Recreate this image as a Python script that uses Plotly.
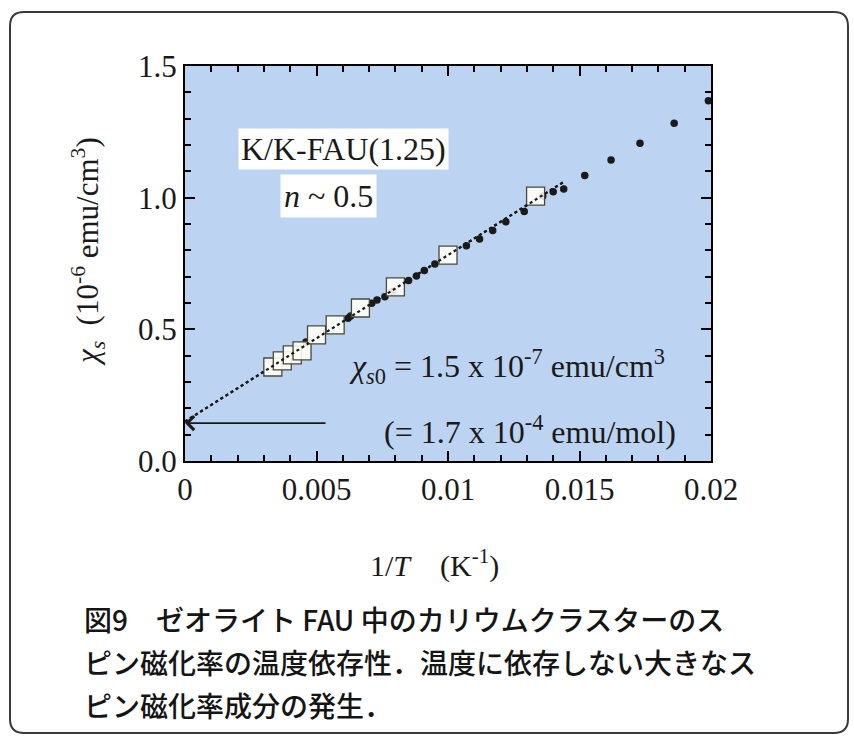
import plotly.graph_objects as go

# --- data -------------------------------------------------------------
# open squares: 1/T (K^-1) and chi_s (10^-6 emu/cm^3)
sq_x = [0.00334, 0.0037, 0.00408, 0.00445, 0.0050, 0.00571, 0.00667, 0.0080, 0.0100, 0.01333]
sq_y = [0.357, 0.380, 0.403, 0.418, 0.479, 0.517, 0.581, 0.661, 0.782, 1.006]

# filled dots
dot_x = [0.0046, 0.0062, 0.0063, 0.0071, 0.0073, 0.0076, 0.0079, 0.0085, 0.0088, 0.0091,
         0.0095, 0.0107, 0.0112, 0.0117, 0.0122, 0.0129, 0.0136, 0.0140, 0.0144, 0.0152,
         0.0162, 0.0173, 0.0186, 0.0199]
dot_y = [0.452, 0.542, 0.551, 0.599, 0.611, 0.624, 0.645, 0.685, 0.703, 0.723,
         0.748, 0.817, 0.843, 0.875, 0.909, 0.947, 1.005, 1.022, 1.033, 1.084,
         1.143, 1.207, 1.283, 1.368]

# linear fit extrapolated to 1/T = 0
fit_x = [0.0, 0.0144]
fit_y = [0.15, 1.06]

chi_s0 = 0.144         # intercept marked by the arrow
arrow_start = 0.0054   # tail of the arrow on the 1/T axis

caption_lines = [
    "図9　ゼオライト FAU 中のカリウムクラスターのス",
    "ピン磁化率の温度依存性．温度に依存しない大きなス",
    "ピン磁化率成分の発生．",
]

# --- layout constants ---------------------------------------------------
W, H = 854, 740
L, R, T, B = 185, 854 - 711, 66, 740 - 461
PW, PH = W - L - R, H - T - B
SERIF = "Liberation Serif, Times New Roman, serif"
GOTHIC = "Noto Sans CJK JP, sans-serif"
INK = "black"
TXT = "#1a1a1a"
X_RANGE, Y_RANGE = [0, 0.02], [0, 1.5]


def px(xp):
    return (xp - L) / PW


def py(yp):
    return (H - B - yp) / PH


fig = go.Figure()

fit_line = dict(color=TXT, width=2.2, dash="dot")
fig.add_trace(go.Scatter(x=fit_x, y=fit_y, mode="lines", line=fit_line,
                         hoverinfo="skip", showlegend=False))
fig.add_trace(go.Scatter(
    x=dot_x, y=dot_y, mode="markers",
    marker=dict(symbol="circle", size=7.5, color=TXT),
    showlegend=False,
))
fig.add_trace(go.Scatter(
    x=sq_x, y=sq_y, mode="markers",
    marker=dict(symbol="square", size=18, color="rgba(255,255,246,0.88)",
                line=dict(color="#4a4838", width=1.3)),
    showlegend=False,
))
# dotted fit line drawn again, on the minor-tick axes, so it shows through the squares
fig.add_trace(go.Scatter(x=fit_x, y=fit_y, mode="lines", line=fit_line,
                         xaxis="x2", yaxis="y2",
                         hoverinfo="skip", showlegend=False))

fig.update_layout(
    width=W, height=H,
    margin=dict(l=L, r=R, t=T, b=B),
    paper_bgcolor="white",
    plot_bgcolor="#bcd4f1",
    showlegend=False,
    # major ticks and labels
    xaxis=dict(range=X_RANGE, dtick=0.005, ticks="inside", ticklen=10, tickwidth=2,
               tickcolor=INK, showline=True, linecolor=INK, linewidth=2, mirror="ticks",
               showgrid=False, zeroline=False,
               tickfont=dict(family=SERIF, size=31, color=TXT)),
    yaxis=dict(range=Y_RANGE, dtick=0.5, tickformat=".1f", ticks="inside", ticklen=10,
               tickwidth=2, tickcolor=INK, showline=True, linecolor=INK, linewidth=2,
               mirror="ticks", showgrid=False, zeroline=False,
               tickfont=dict(family=SERIF, size=31, color=TXT)),
    # minor ticks carried by overlaying axes
    xaxis2=dict(range=X_RANGE, dtick=0.001, overlaying="x", anchor="y2",
                ticks="inside", ticklen=6, tickwidth=1.5, tickcolor=INK, mirror="ticks",
                showticklabels=False, showline=False, showgrid=False, zeroline=False),
    yaxis2=dict(range=Y_RANGE, dtick=0.1, overlaying="y", anchor="x2",
                ticks="inside", ticklen=6, tickwidth=1.5, tickcolor=INK, mirror="ticks",
                showticklabels=False, showline=False, showgrid=False, zeroline=False),
)

annotations = [
    dict(x=0.00601, y=1.185, xref="x", yref="y",
         text="K/K-FAU(1.25)", showarrow=False,
         font=dict(family=SERIF, size=32, color=TXT),
         bgcolor="white", borderpad=2),
    dict(x=0.00544, y=1.006, xref="x", yref="y",
         text="<i>n</i> ~ 0.5", showarrow=False,
         font=dict(family=SERIF, size=32, color=TXT),
         bgcolor="white", borderpad=3),
    dict(x=0.00616, y=0.357, xref="x", yref="y", xanchor="left", yanchor="middle",
         text="<i>χ</i><sub><i>s</i>0</sub> = 1.5 x 10<sup>-7</sup> emu/cm<sup>3</sup>",
         showarrow=False, font=dict(family=SERIF, size=32, color=TXT)),
    dict(x=0.00749, y=0.118, xref="x", yref="y", xanchor="left", yanchor="middle",
         text="(= 1.7 x 10<sup>-4</sup> emu/mol)",
         showarrow=False, font=dict(family=SERIF, size=32, color=TXT)),
    # arrow pointing at the intercept
    dict(x=0, y=chi_s0, ax=arrow_start, ay=chi_s0,
         xref="x", yref="y", axref="x", ayref="y",
         text="", showarrow=True, arrowhead=4, arrowsize=1.5,
         arrowwidth=1.8, arrowcolor=TXT),
    # axis titles
    dict(x=px(88), y=py(252), xref="paper", yref="paper", textangle=-90,
         xanchor="center", yanchor="middle",
         text="<i>χ</i><sub><i>s</i></sub>  (10<sup>-6</sup> emu/cm<sup>3</sup>)",
         showarrow=False, font=dict(family=SERIF, size=31, color=TXT)),
    dict(x=px(434), y=py(563), xref="paper", yref="paper",
         xanchor="center", yanchor="middle",
         text="1/<i>T</i>    (K<sup>-1</sup>)",
         showarrow=False, font=dict(family=SERIF, size=30, color=TXT)),
]

for i, line in enumerate(caption_lines):
    annotations.append(dict(
        x=px(82), y=py(619 + 43 * i), xref="paper", yref="paper",
        xanchor="left", yanchor="middle", text=line, showarrow=False,
        font=dict(family=GOTHIC, size=28, color="#151515", weight=500),
    ))

fig.update_layout(annotations=annotations)

# rounded frame around the whole figure
fx0, fx1, fy0, fy1, rr = 10, 848, 12, 733, 14
rx, ry = rr / PW, rr / PH
x0, x1, y0, y1 = px(fx0), px(fx1), py(fy1), py(fy0)
frame_path = (
    f"M {x0 + rx},{y1} L {x1 - rx},{y1} Q {x1},{y1} {x1},{y1 - ry} "
    f"L {x1},{y0 + ry} Q {x1},{y0} {x1 - rx},{y0} "
    f"L {x0 + rx},{y0} Q {x0},{y0} {x0},{y0 + ry} "
    f"L {x0},{y1 - ry} Q {x0},{y1} {x0 + rx},{y1} Z"
)
fig.add_shape(type="path", path=frame_path, xref="paper", yref="paper",
              line=dict(color="#3a3a3a", width=2), layer="below")

fig.write_html("out.html")
